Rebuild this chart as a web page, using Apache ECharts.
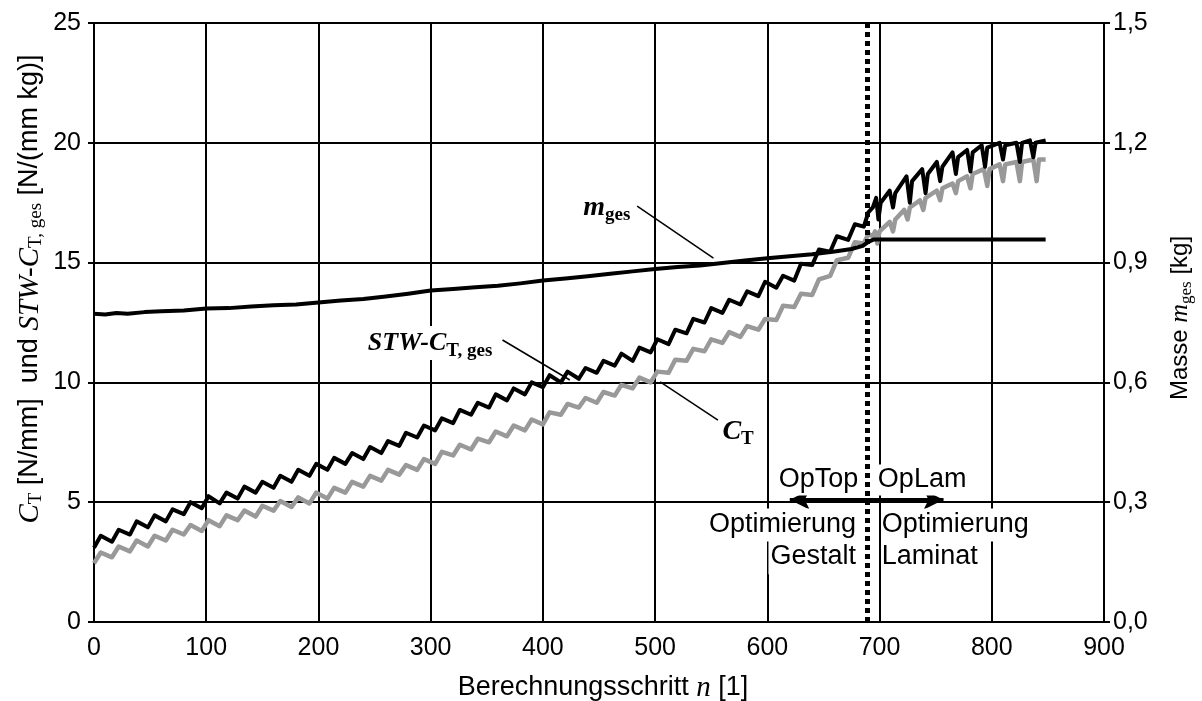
<!DOCTYPE html>
<html><head><meta charset="utf-8">
<script src="https://cdn.jsdelivr.net/npm/echarts@6/dist/echarts.min.js"></script>
<style>html,body{margin:0;padding:0;background:#fff}#c{width:1202px;height:701px}</style>
</head><body><div id="c"></div>
<script>
// ---- data ----
// STW-C_T,ges [N/(mm kg)] (black)
const stwData = [[0,3.1],[6,3.6],[16,3.35],[22,3.85],[32,3.65],[38,4.2],[48,3.95],[54,4.45],[64,4.2],[70,4.7],[80,4.5],[86,5.0],[96,4.75],[102,5.25],[112,4.95],[118,5.4],[128,5.15],[134,5.65],[144,5.4],[150,5.85],[160,5.6],[166,6.1],[176,5.85],[182,6.35],[192,6.1],[198,6.6],[208,6.35],[214,6.85],[224,6.6],[230,7.05],[240,6.8],[246,7.3],[256,7.05],[262,7.55],[272,7.35],[278,7.9],[288,7.7],[294,8.2],[304,8.0],[310,8.5],[320,8.3],[326,8.85],[336,8.65],[342,9.15],[352,8.95],[358,9.5],[368,9.25],[374,9.75],[384,9.5],[390,10.0],[400,9.8],[406,10.3],[416,10.0],[422,10.45],[432,10.15],[438,10.6],[448,10.4],[454,10.9],[464,10.7],[470,11.2],[480,10.9],[486,11.45],[496,11.25],[502,11.8],[512,11.6],[518,12.2],[528,12.05],[534,12.65],[544,12.5],[550,13.1],[560,12.9],[566,13.45],[576,13.25],[582,13.8],[592,13.6],[598,14.2],[608,13.95],[614,14.45],[624,14.25],[630,14.95],[640,14.9],[646,15.55],[656,15.45],[662,16.1],[672,15.95],[678,16.6],[686,16.5],[690,17.1],[694,17.3],[697,17.7],[699,16.8],[701,17.5],[709,18.0],[712,17.3],[714,17.9],[724,18.6],[727,17.5],[729,18.4],[738,18.9],[741,17.9],[743,18.7],[751,19.2],[754,18.4],[756,19.0],[765,19.6],[768,18.7],[770,19.4],[778,19.7],[781,18.8],[783,19.6],[791,19.9],[794,19.0],[796,19.8],[807,20.0],[810,19.3],[812,19.9],[822,20.0],[825,19.2],[827,20.0],[834,20.1],[837,19.4],[839,20.0],[848,20.1]];
// C_T [N/mm] (grey)
const ctData = [[0,2.45],[6,2.9],[16,2.7],[22,3.15],[32,2.95],[38,3.4],[48,3.15],[54,3.6],[64,3.4],[70,3.85],[80,3.65],[86,4.05],[96,3.8],[102,4.25],[112,4.0],[118,4.45],[128,4.25],[134,4.65],[144,4.4],[150,4.85],[160,4.65],[166,5.05],[176,4.8],[182,5.2],[192,4.95],[198,5.4],[208,5.15],[214,5.6],[224,5.4],[230,5.85],[240,5.65],[246,6.1],[256,5.9],[262,6.35],[272,6.15],[278,6.55],[288,6.35],[294,6.8],[304,6.6],[310,7.1],[320,6.95],[326,7.4],[336,7.2],[342,7.65],[352,7.5],[358,7.95],[368,7.75],[374,8.2],[384,8.0],[390,8.45],[400,8.25],[406,8.75],[416,8.65],[422,9.1],[432,8.95],[438,9.35],[448,9.15],[454,9.6],[464,9.45],[470,9.9],[480,9.75],[486,10.2],[496,10.0],[502,10.45],[512,10.4],[518,10.95],[528,10.9],[534,11.4],[544,11.3],[550,11.8],[560,11.65],[566,12.1],[576,11.9],[582,12.35],[592,12.2],[598,12.65],[608,12.6],[614,13.2],[624,13.15],[630,13.7],[640,13.65],[646,14.3],[656,14.45],[662,15.1],[672,15.2],[678,15.85],[686,15.8],[690,16.2],[694,16.1],[696,16.3],[698,15.8],[700,16.3],[709,16.7],[712,16.3],[714,16.8],[722,17.2],[725,16.8],[727,17.3],[736,17.6],[739,17.2],[741,17.7],[751,18.0],[754,17.6],[756,18.1],[765,18.3],[768,17.9],[770,18.4],[778,18.6],[781,18.1],[783,18.7],[793,18.9],[796,18.2],[798,18.9],[807,19.1],[810,18.4],[812,19.1],[822,19.2],[825,18.4],[827,19.2],[837,19.3],[840,18.4],[842,19.3],[848,19.3]];
// m_ges [kg] (black, right axis)
const massData = [[0,0.772],[10,0.770],[20,0.774],[30,0.772],[45,0.776],[60,0.778],[80,0.780],[100,0.785],[120,0.786],[140,0.790],[160,0.793],[180,0.795],[200,0.800],[220,0.805],[240,0.809],[260,0.815],[280,0.822],[300,0.830],[320,0.834],[340,0.838],[360,0.842],[380,0.848],[400,0.855],[420,0.860],[440,0.866],[460,0.872],[480,0.878],[500,0.884],[520,0.889],[540,0.893],[560,0.899],[580,0.905],[600,0.911],[620,0.916],[640,0.921],[660,0.928],[675,0.934],[685,0.942],[690,0.952],[695,0.958],[848,0.958]];

const xMin = 0, xMax = 900, xStep = 100;
const yMin = 0, yMax = 25, yStep = 5;
const y2Min = 0, y2Max = 1.5, y2Step = 0.3;

// annotation anchors (data coordinates, left axis)
const dividerStep = 689;
const arrowFrom = [620, 5.1], arrowTo = [757, 5.1];
const massPointer = [[484, 17.36], [552, 15.19]];
const stwPointer = [[364, 11.77], [424, 10.1]];
const ctPointer = [[504.5, 10.02], [556, 8.43]];

const SANS = 'Liberation Sans';
const SERIF = 'Liberation Serif';

const chart = echarts.init(document.getElementById('c'), null, {renderer: 'canvas'});

function seg(a, b, ls, sym, symSize) {
  return [
    {coord: a, lineStyle: ls, symbol: sym || 'none', symbolSize: symSize},
    {coord: b, lineStyle: ls, symbol: sym || 'none', symbolSize: symSize}
  ];
}
const thin = {color: '#000', width: 1.5, type: 'solid'};

chart.setOption({
  animation: false,
  backgroundColor: '#fff',
  grid: {left: 94, right: 98, top: 23, bottom: 79, containLabel: false},
  xAxis: {
    type: 'value', min: xMin, max: xMax, interval: xStep,
    axisLine: {show: true, onZero: false, lineStyle: {color: '#000', width: 2}},
    axisTick: {show: false},
    splitLine: {show: true, lineStyle: {color: '#000', width: 2}},
    axisLabel: {color: '#000', fontFamily: SANS, fontSize: 25, margin: 14}
  },
  yAxis: [{
    type: 'value', min: yMin, max: yMax, interval: yStep, position: 'left',
    axisLine: {show: true, lineStyle: {color: '#000', width: 2}},
    axisTick: {show: true, inside: false, length: 6, lineStyle: {color: '#000', width: 2}},
    splitLine: {show: true, lineStyle: {color: '#000', width: 2}},
    axisLabel: {color: '#000', fontFamily: SANS, fontSize: 25, margin: 13}
  }, {
    type: 'value', min: y2Min, max: y2Max, interval: y2Step, position: 'right',
    axisLine: {show: true, lineStyle: {color: '#000', width: 2}},
    axisTick: {show: true, inside: false, length: 6, lineStyle: {color: '#000', width: 2}},
    splitLine: {show: false},
    axisLabel: {color: '#000', fontFamily: SANS, fontSize: 25, margin: 9,
      formatter: v => v.toFixed(1).replace('.', ',')}
  }],
  series: [{
    name: 'C_T', type: 'line', data: ctData, showSymbol: false, symbol: 'none',
    lineStyle: {color: '#999', width: 4.5, join: 'round'}, z: 3, silent: true
  }, {
    name: 'STW-C_T,ges', type: 'line', data: stwData, showSymbol: false, symbol: 'none',
    lineStyle: {color: '#000', width: 4, join: 'round'}, z: 4, silent: true,
    markLine: {
      silent: true, animation: false, symbol: 'none', label: {show: false},
      emphasis: {disabled: true},
      data: [
        seg(massPointer[0], massPointer[1], thin),
        seg(stwPointer[0], stwPointer[1], thin),
        seg(ctPointer[0], ctPointer[1], thin),
        seg([dividerStep, yMin], [dividerStep, yMax], {color: '#000', width: 5, type: [5, 4]}),
        seg(arrowFrom, arrowTo, {color: '#000', width: 4, type: 'solid'}, 'arrow', [15, 20])
      ]
    }
  }, {
    name: 'm_ges', type: 'line', yAxisIndex: 1, data: massData, showSymbol: false, symbol: 'none',
    lineStyle: {color: '#000', width: 4, join: 'round'}, z: 5, silent: true
  }]
});

function px(p) { return chart.convertToPixel({gridIndex: 0}, p); }

const labBold = {fontFamily: SERIF, fontStyle: 'italic', fontWeight: 'bold', fontSize: 28, lineHeight: 34, fill: '#000'};
const subBold = {fontFamily: SERIF, fontWeight: 'bold', fontSize: 19, lineHeight: 26, verticalAlign: 'bottom', fill: '#000'};

const mPos = px([436, 17.3]);
const stwPos = px([244, 11.64]);
const ctPos = px([560, 7.95]);
const opTopPos = px([681, 5.93]);
const opLamPos = px([698.5, 5.93]);
const optLPos = px([679, 4.05]);
const gestPos = px([679, 2.72]);
const optRPos = px([702, 4.05]);
const lamPos = px([702, 2.72]);

const plain = {fontFamily: SANS, fontSize: 27, fill: '#000'};

chart.setOption({
  graphic: [
    // series labels
    {type: 'text', x: mPos[0], y: mPos[1], z: 100, silent: true,
      style: {text: '{a|m}{b|ges}', rich: {a: labBold, b: subBold}, align: 'left', verticalAlign: 'middle'}},
    {type: 'text', x: stwPos[0], y: stwPos[1], z: 100, silent: true,
      style: {text: '{a|STW-C}{b|T, ges}', rich: {a: Object.assign({}, labBold, {fontSize: 26}), b: Object.assign({}, subBold, {fontSize: 19})},
        align: 'left', verticalAlign: 'middle', backgroundColor: '#fff', padding: [0, 2, 0, 0]}},
    {type: 'text', x: ctPos[0], y: ctPos[1], z: 100, silent: true,
      style: {text: '{a|C}{b|T}', rich: {a: labBold, b: subBold}, align: 'left', verticalAlign: 'middle'}},
    // OpTop / OpLam texts
    {type: 'text', x: opTopPos[0], y: opTopPos[1], z: 90, silent: true,
      style: Object.assign({}, plain, {text: 'OpTop', align: 'right', verticalAlign: 'middle', backgroundColor: '#fff', padding: [2, 0, 2, 2]})},
    {type: 'text', x: opLamPos[0], y: opLamPos[1], z: 90, silent: true,
      style: Object.assign({}, plain, {text: 'OpLam', align: 'left', verticalAlign: 'middle', backgroundColor: '#fff', padding: [2, 2, 2, 0]})},
    {type: 'text', x: optLPos[0], y: optLPos[1], z: 90, silent: true,
      style: Object.assign({}, plain, {text: 'Optimierung', align: 'right', verticalAlign: 'middle', backgroundColor: '#fff', padding: [3, 0, 3, 2]})},
    {type: 'text', x: gestPos[0], y: gestPos[1], z: 90, silent: true,
      style: Object.assign({}, plain, {text: 'Gestalt', align: 'right', verticalAlign: 'middle', backgroundColor: '#fff', padding: [3, 0, 5, 2]})},
    {type: 'text', x: optRPos[0], y: optRPos[1], z: 90, silent: true,
      style: Object.assign({}, plain, {text: 'Optimierung', align: 'left', verticalAlign: 'middle', backgroundColor: '#fff', padding: [3, 2, 3, 0]})},
    {type: 'text', x: lamPos[0], y: lamPos[1], z: 90, silent: true,
      style: Object.assign({}, plain, {text: 'Laminat', align: 'left', verticalAlign: 'middle', backgroundColor: '#fff', padding: [3, 2, 5, 0]})},
    // axis titles
    {type: 'text', x: 30, y: 289, rotation: Math.PI / 2, silent: true,
      style: {text: '{i|C}{s|T}{r| [N/mm]  und }{i|STW-C}{s|T, ges}{r| [N/(mm kg)]}',
        rich: {
          r: {fontFamily: SANS, fontSize: 27, lineHeight: 32, fill: '#000'},
          i: {fontFamily: SERIF, fontStyle: 'italic', fontSize: 29, lineHeight: 32, fill: '#000'},
          s: {fontFamily: SERIF, fontSize: 19, lineHeight: 24, verticalAlign: 'bottom', fill: '#000'}
        }, align: 'center', verticalAlign: 'middle'}},
    {type: 'text', x: 1180, y: 318, rotation: Math.PI / 2, silent: true,
      style: {text: '{r|Masse }{i|m}{s|ges}{r| [kg]}',
        rich: {
          r: {fontFamily: SANS, fontSize: 24, lineHeight: 30, fill: '#000'},
          i: {fontFamily: SERIF, fontStyle: 'italic', fontSize: 26, lineHeight: 30, fill: '#000'},
          s: {fontFamily: SERIF, fontSize: 17, lineHeight: 22, verticalAlign: 'bottom', fill: '#000'}
        }, align: 'center', verticalAlign: 'middle'}},
    {type: 'text', x: 603, y: 688, silent: true,
      style: {text: '{r|Berechnungsschritt }{i|n}{r| [1]}',
        rich: {
          r: {fontFamily: SANS, fontSize: 27, lineHeight: 30, fill: '#000'},
          i: {fontFamily: SERIF, fontStyle: 'italic', fontSize: 29, lineHeight: 30, fill: '#000'}
        }, align: 'center', verticalAlign: 'middle'}}
  ]
});
</script>
</body></html>
